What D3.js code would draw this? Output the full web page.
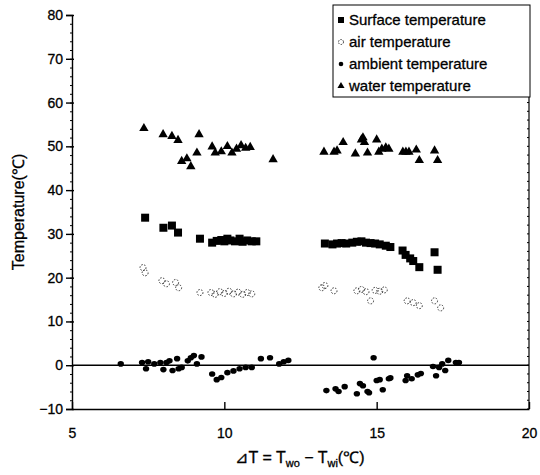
<!DOCTYPE html>
<html><head><meta charset="utf-8">
<script src="https://cdn.jsdelivr.net/npm/d3@7"></script>
<style>body{margin:0;background:#fff}svg{display:block}text{font-family:"Liberation Sans",Arial,sans-serif}</style>
</head><body>
<script>
const xTicks=[5,10,15,20];
const yTicks=[-10,0,10,20,30,40,50,60,70,80];
const seriesNames=["Surface temperature","air temperature","ambient temperature","water temperature"];
const surfaceX=[7.4,8.0,8.28,8.48,9.2,9.6,9.75,9.9,10.0,10.1,10.2,10.35,10.5,10.6,10.75,10.9,11.05,13.3,13.55,13.7,13.85,14.0,14.2,14.35,14.5,14.65,14.8,14.95,15.1,15.3,15.45,15.85,15.95,16.1,16.2,16.4,16.9,17.0];
const surfaceY=[33.7,31.4,31.9,30.3,28.9,28.0,28.4,28.6,28.3,28.9,28.5,28.3,28.9,28.2,28.5,28.3,28.3,27.8,27.6,27.8,27.9,27.8,28.0,28.2,28.3,28.0,27.9,27.8,27.6,27.3,27.0,26.2,25.2,24.4,23.8,22.4,25.8,21.8];
const airX=[7.33,7.4,7.95,8.1,8.4,8.5,9.2,9.56,9.7,9.85,10.0,10.15,10.3,10.45,10.6,10.75,10.9,13.2,13.3,13.6,14.35,14.5,14.65,14.8,14.95,15.1,15.25,16.0,16.2,16.4,16.9,17.1];
const airY=[22.3,21.1,19.3,18.6,18.9,17.7,16.6,16.6,16.2,16.8,16.4,16.9,16.3,16.7,16.2,16.6,16.3,17.7,18.2,17.0,17.0,17.3,16.8,14.7,17.1,16.9,17.2,14.7,14.3,13.6,14.7,13.1];
const ambientX=[6.6,7.3,7.43,7.5,7.7,7.9,8.0,8.1,8.2,8.3,8.45,8.5,8.6,8.8,8.9,9.0,9.1,9.25,9.6,9.75,9.9,10.1,10.3,10.5,10.7,10.9,11.2,11.5,11.8,11.95,12.1,13.35,13.65,13.75,13.95,14.35,14.45,14.55,14.7,14.75,14.9,15.0,15.1,15.2,15.4,15.45,15.95,16.0,16.15,16.35,16.45,16.85,16.95,17.05,17.15,17.25,17.35,17.6,17.7];
const ambientY=[0.3,0.6,-0.8,0.8,0.3,0.6,-1.0,0.6,1.0,-1.2,1.5,-0.8,-0.5,1.0,1.7,2.2,0.3,1.9,-2.0,-3.3,-2.8,-1.7,-1.3,-0.8,-0.5,-0.5,1.5,1.7,0.3,0.8,1.1,-5.8,-5.4,-6.0,-4.9,-6.5,-4.2,-4.7,-6.0,-6.3,1.7,-3.5,-3.3,-5.6,-3.1,-2.9,-3.5,-2.4,-3.1,-2.2,-1.9,-0.3,-2.4,-0.5,0.3,-1.2,1.1,0.6,0.6];
const waterX=[7.36,7.99,8.28,8.48,8.6,8.77,8.9,9.1,9.17,9.6,9.7,9.9,10.1,10.25,10.4,10.55,10.7,10.85,11.6,13.27,13.6,13.7,13.9,14.3,14.5,14.55,14.6,14.7,15.0,15.07,15.17,15.3,15.4,15.86,15.96,16.06,16.3,16.4,16.9,17.0];
const waterY=[54.1,52.7,52.3,51.4,46.6,47.2,45.4,48.5,52.7,49.9,48.5,48.8,50.0,48.5,49.4,50.2,49.6,49.8,47.0,48.7,48.7,49.0,50.9,48.3,51.5,52.0,50.9,48.5,51.5,48.7,49.4,49.7,49.4,48.7,48.7,48.7,49.2,46.8,49.0,46.8];

const W=540,H=475;
const svg=d3.select("body").append("svg").attr("width",W).attr("height",H);
const x=d3.scaleLinear().domain([5,20]).range([72,529]);
const y=d3.scaleLinear().domain([-10,80]).range([409,15]);

// axes
const yAxis=svg.append("g").attr("transform","translate(72,0)")
  .call(d3.axisLeft(y).tickValues(yTicks).tickSize(6).tickPadding(3).tickFormat(d3.format("d")));
yAxis.selectAll(".tick line").attr("x2",-6).attr("x1",2).attr("stroke-width",1.4);
const yMinor=svg.append("g").attr("transform","translate(72,0)")
  .call(d3.axisLeft(y).tickValues(d3.range(-10,81,2)).tickSize(2).tickFormat(""));
yMinor.select(".domain").remove();
const xAxis=svg.append("g").attr("transform","translate(0,409)")
  .call(d3.axisBottom(x).tickValues(xTicks).tickSize(0).tickPadding(19).tickFormat(d3.format("d")));
xAxis.selectAll(".tick line").attr("y2",-7).attr("stroke-width",1.4);
// right frame
svg.append("line").attr("x1",x(20)).attr("x2",x(20)).attr("y1",y(80)).attr("y2",y(-10)).attr("stroke","#000").attr("stroke-width",1.2);
svg.append("g").selectAll("line").data(d3.range(-10,81,2)).join("line")
  .attr("x1",x(20)).attr("x2",x(20)-2).attr("y1",d=>y(d)).attr("y2",d=>y(d)).attr("stroke","#000");
svg.selectAll(".domain").attr("stroke-width",1.4);
svg.selectAll(".tick text").attr("font-size",14).attr("fill","#000").attr("stroke","#000").attr("stroke-width",0.3);
// zero line
svg.append("line").attr("x1",x(5)).attr("x2",x(20)).attr("y1",y(0)).attr("y2",y(0)).attr("stroke","#000").attr("stroke-width",1.4);

// titles
svg.append("text").attr("transform","translate(24,"+(y(35))+") rotate(-90)").attr("text-anchor","middle")
  .attr("font-size",16).attr("stroke","#000").attr("stroke-width",0.3).text("Temperature(℃)");
const xt=svg.append("text").attr("x",300).attr("y",463).attr("text-anchor","middle").attr("font-size",16).attr("stroke","#000").attr("stroke-width",0.3);
xt.append("tspan").text("⊿T = T");
xt.append("tspan").attr("font-size",11).attr("dy",4).text("wo");
xt.append("tspan").attr("dy",-4).text(" − T");
xt.append("tspan").attr("font-size",11).attr("dy",4).text("wi");
xt.append("tspan").attr("dy",-4).text("(℃)");

// marks
const tri=d3.symbol().type(d3.symbolTriangle).size(38);
svg.append("g").selectAll("path").data(d3.zip(waterX,waterY)).join("path")
  .attr("d",tri).attr("transform",d=>`translate(${x(d[0])},${y(d[1])})`).attr("fill","#000");
svg.append("g").selectAll("rect").data(d3.zip(surfaceX,surfaceY)).join("rect")
  .attr("x",d=>x(d[0])-4).attr("y",d=>y(d[1])-4).attr("width",8).attr("height",8).attr("fill","#000");
svg.append("g").selectAll("circle").data(d3.zip(airX,airY)).join("circle")
  .attr("cx",d=>x(d[0])).attr("cy",d=>y(d[1])).attr("r",3).attr("fill","none").attr("stroke","#333")
  .attr("stroke-width",1).attr("stroke-dasharray","1.5,1.5");
svg.append("g").selectAll("ellipse").data(d3.zip(ambientX,ambientY)).join("ellipse")
  .attr("cx",d=>x(d[0])).attr("cy",d=>y(d[1])).attr("rx",3.2).attr("ry",2.8).attr("fill","#000");

// legend
const lg=svg.append("g").attr("transform","translate(333,5)");
lg.append("rect").attr("x",0).attr("y",0).attr("width",197).attr("height",92).attr("fill","#fff").attr("stroke","#000").attr("stroke-width",1);
const ly=i=>15+i*22;
lg.append("rect").attr("x",5).attr("y",ly(0)-3).attr("width",6).attr("height",6).attr("fill","#000");
lg.append("circle").attr("cx",8).attr("cy",ly(1)).attr("r",2.5).attr("fill","none").attr("stroke","#333").attr("stroke-dasharray","1.5,1.2");
lg.append("circle").attr("cx",8).attr("cy",ly(2)).attr("r",2.3).attr("fill","#000");
lg.append("path").attr("d",d3.symbol().type(d3.symbolTriangle).size(22)).attr("transform",`translate(8,${ly(3)})`).attr("fill","#000");
lg.selectAll("text.l").data(seriesNames).join("text").attr("class","l")
  .attr("x",16).attr("y",(d,i)=>ly(i)+5).attr("font-size",15).attr("stroke","#000").attr("stroke-width",0.3).text(d=>d);
</script>
</body></html>
